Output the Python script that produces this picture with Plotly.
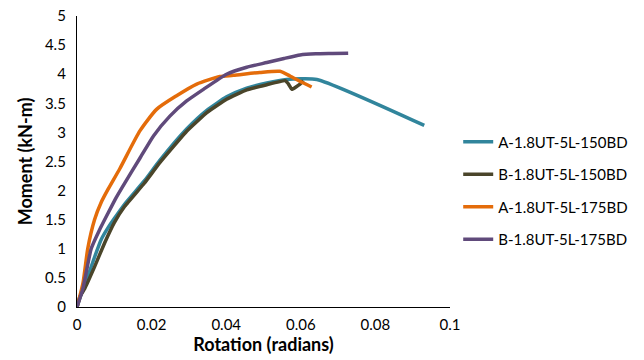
import plotly.graph_objects as go

# ---- data ----
names = ["A-1.8UT-5L-150BD", "B-1.8UT-5L-150BD", "A-1.8UT-5L-175BD", "B-1.8UT-5L-175BD"]

a150_x = [0, 0.001, 0.0025, 0.0045, 0.0065, 0.0085, 0.01, 0.0128, 0.0181, 0.0222, 0.0294, 0.0348,
          0.0401, 0.0455, 0.0509, 0.0562, 0.0643, 0.0931]
a150_y = [0, 0.2, 0.45, 0.82, 1.16, 1.38, 1.52, 1.77, 2.17, 2.52, 3.06, 3.38,
          3.61, 3.76, 3.85, 3.91, 3.91, 3.12]

b150_x = [0, 0.0008, 0.0021, 0.0047, 0.0074, 0.01, 0.0128, 0.0181, 0.0222, 0.0294, 0.0348,
          0.0401, 0.0455, 0.0509, 0.0558, 0.0566, 0.0576, 0.0598, 0.0607]
b150_y = [0, 0.18, 0.32, 0.69, 1.1, 1.45, 1.73, 2.13, 2.48, 3.02, 3.34,
          3.57, 3.73, 3.82, 3.89, 3.84, 3.74, 3.83, 3.89]

a175_x = [0, 0.0016, 0.0029, 0.0047, 0.0065, 0.0083, 0.0115, 0.0169, 0.0214,
          0.0267, 0.0321, 0.0383, 0.0419, 0.049, 0.0544, 0.0571, 0.06, 0.0629]
a175_y = [0, 0.41, 1.01, 1.5, 1.8, 2.02, 2.38, 3.03, 3.40,
          3.63, 3.83, 3.96, 3.98, 4.03, 4.05, 3.97, 3.87, 3.78]

b175_x = [0, 0.0016, 0.0038, 0.006, 0.0083, 0.0105, 0.0128, 0.0169, 0.0205, 0.0249, 0.0294,
          0.0339, 0.0401, 0.0455, 0.0509, 0.0555, 0.0598, 0.064, 0.0685, 0.0727]
b175_y = [0, 0.32, 1.0, 1.32, 1.61, 1.88, 2.13, 2.56, 2.94, 3.28, 3.54,
          3.74, 4.0, 4.12, 4.2, 4.27, 4.33, 4.35, 4.355, 4.36]

x_ticks = [0, 0.02, 0.04, 0.06, 0.08, 0.1]
x_ticklabels = ["0", "0.02", "0.04", "0.06", "0.08", "0.1"]
y_ticks = [0, 0.5, 1, 1.5, 2, 2.5, 3, 3.5, 4, 4.5, 5]
y_ticklabels = ["0", "0.5", "1", "1.5", "2", "2.5", "3", "3.5", "4", "4.5", "5"]

colors = ["#31859C", "#4A452A", "#E46C0A", "#604A7B"]
series = [(a150_x, a150_y), (b150_x, b150_y), (a175_x, a175_y), (b175_x, b175_y)]
smooth = [0.5, 0.3, 0.6, 0.5]

fig = go.Figure()
for i, ((xs, ys), nm, c) in enumerate(zip(series, names, colors)):
    fig.add_trace(go.Scatter(x=xs, y=ys, mode="lines", name=nm, legendgroup=f"g{i}",
                             line=dict(color=c, width=3.5, shape="spline", smoothing=smooth[i])))

font_family = "Lato, Carlito, Calibri, sans-serif"
fig.update_layout(
    width=644, height=360,
    margin=dict(l=77, r=194, t=16, b=53, autoexpand=False),
    paper_bgcolor="white", plot_bgcolor="white",
    font=dict(family=font_family, color="black", size=15),
    legend=dict(x=1.022, xanchor="left", y=0.40, yanchor="middle",
                font=dict(size=15, color="black"), tracegroupgap=10,
                bgcolor="rgba(0,0,0,0)"),
    xaxis=dict(range=[0, 0.1], tickvals=x_ticks, ticktext=x_ticklabels, automargin=False,
               showgrid=False, zeroline=False, showline=True, linecolor="black", linewidth=1.3,
               ticks="", ticklabelstandoff=4,
               title=dict(text="<b>Rotation (radians)</b>", font=dict(size=18), standoff=6)),
    yaxis=dict(range=[0, 5], tickvals=y_ticks, ticktext=y_ticklabels, automargin=False,
               showgrid=False, zeroline=False, showline=True, linecolor="black", linewidth=1.3,
               ticks="", ticklabelstandoff=7,
               title=dict(text="<b>Moment (kN-m)</b>", font=dict(size=18), standoff=7)),
)

fig.write_html("out.html")
